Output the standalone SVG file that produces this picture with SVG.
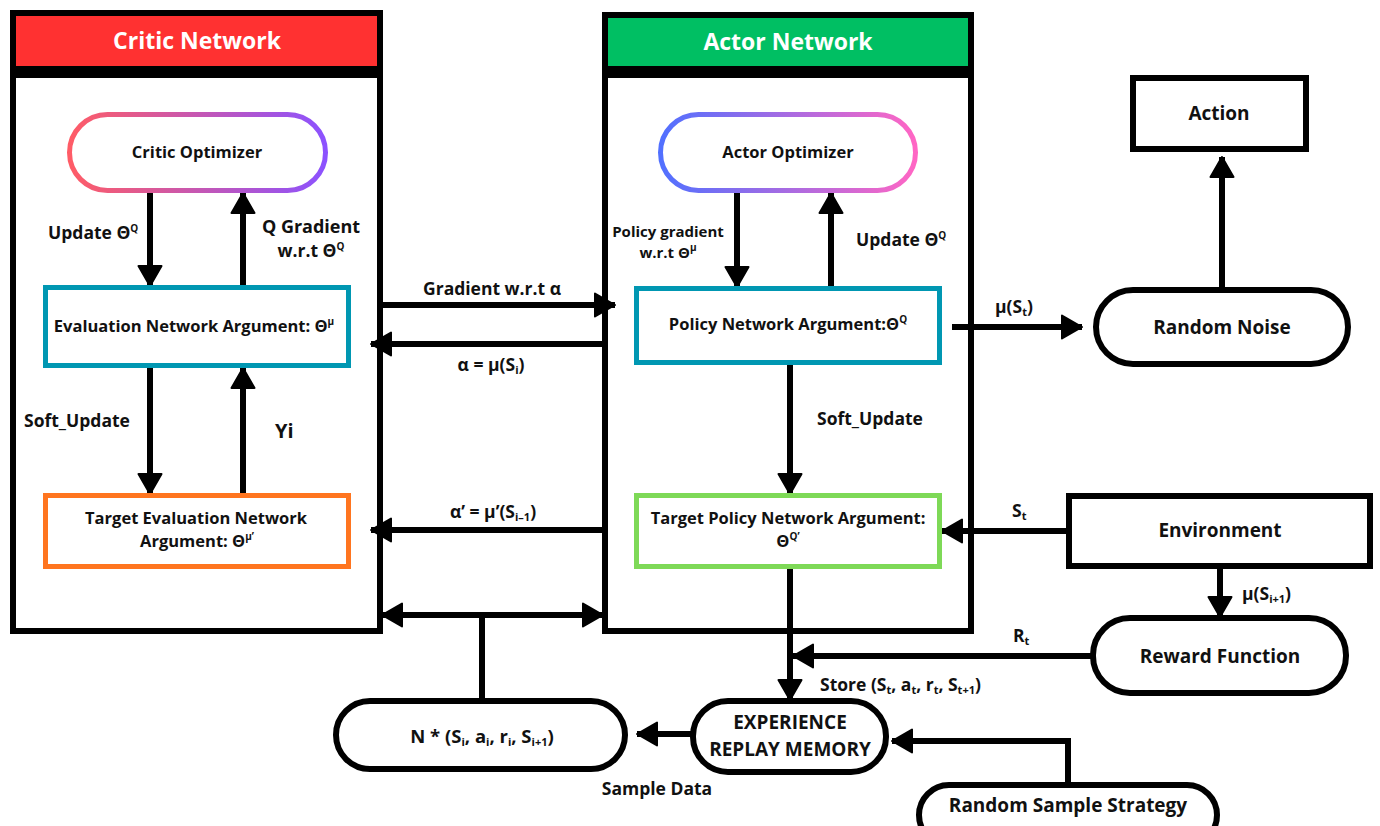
<svg xmlns="http://www.w3.org/2000/svg" width="1380" height="826" viewBox="0 0 1380 826">
  <defs>
    <linearGradient id="gradCritic" x1="0" y1="0" x2="1" y2="0">
      <stop offset="0" stop-color="#ff5c66"/>
      <stop offset="1" stop-color="#8c52ff"/>
    </linearGradient>
    <linearGradient id="gradActor" x1="0" y1="0" x2="1" y2="0">
      <stop offset="0" stop-color="#5170ff"/>
      <stop offset="1" stop-color="#ff66c4"/>
    </linearGradient>
    <marker id="arrow" viewBox="0 0 22 26" refX="21" refY="13" markerWidth="22" markerHeight="26" markerUnits="userSpaceOnUse" orient="auto-start-reverse">
      <path d="M1,1.5 L21,13 L1,24.5 Z" fill="#000" stroke="#000" stroke-width="2" stroke-linejoin="round"/>
    </marker>
    <style>
      text { font-family: "Open Sans", Lato, "Liberation Sans", sans-serif; font-weight: 700; fill: #111; }
      .hdr { font-size: 23px; fill: #fff; text-anchor: middle; }
      .n16 { font-size: 16.5px; text-anchor: middle; }
      .n19 { font-size: 19px; text-anchor: middle; }
      .lbl { font-size: 17.5px; }
      .lblc { font-size: 17.5px; text-anchor: middle; }
      .smc { font-size: 15px; text-anchor: middle; }
      .sup { font-size: 10px; }
      .sub { font-size: 11px; }
      .frame { fill: #fff; stroke: #000; stroke-width: 6; }
      .box { fill: #fff; stroke-width: 5; }
      .blk { fill: #fff; stroke: #000; stroke-width: 6; }
      .wire { fill: none; stroke: #000; stroke-width: 6; }
      .arr { fill: none; stroke: #000; stroke-width: 6; marker-end: url(#arrow); }
    </style>
  </defs>

  <!-- Critic panel -->
  <g id="critic-panel">
    <rect class="frame" x="13" y="13" width="367" height="618"/>
    <rect x="16" y="16" width="361" height="51" fill="#ff3131"/>
    <rect x="13" y="66" width="367" height="12" fill="#000"/>
    <text class="hdr" x="197" y="49">Critic Network</text>
  </g>

  <!-- Actor panel -->
  <g id="actor-panel">
    <rect class="frame" x="605" y="15" width="366" height="616"/>
    <rect x="608" y="18" width="360" height="49" fill="#00bf63"/>
    <rect x="605" y="66" width="366" height="12" fill="#000"/>
    <text class="hdr" x="788" y="50">Actor Network</text>
  </g>

  <!-- Connectors -->
  <g id="connectors">
    <!-- critic internal -->
    <line class="arr" x1="150" y1="193" x2="150" y2="286"/>
    <line class="arr" x1="243" y1="286" x2="243" y2="193"/>
    <line class="arr" x1="150" y1="368" x2="150" y2="494"/>
    <line class="arr" x1="243" y1="494" x2="243" y2="368"/>
    <!-- actor internal -->
    <line class="arr" x1="737" y1="193" x2="737" y2="287"/>
    <line class="arr" x1="831" y1="287" x2="831" y2="193"/>
    <line class="arr" x1="790" y1="365" x2="790" y2="494"/>
    <!-- between panels -->
    <line class="arr" x1="380" y1="305" x2="615" y2="305"/>
    <line class="arr" x1="603" y1="344" x2="371" y2="344"/>
    <line class="arr" x1="603" y1="530" x2="371" y2="530"/>
    <line class="arr" x1="482" y1="615" x2="382" y2="615"/>
    <line class="arr" x1="482" y1="615" x2="603" y2="615"/>
    <line class="wire" x1="482" y1="612" x2="482" y2="700"/>
    <!-- environment side -->
    <line class="arr" x1="952" y1="327" x2="1082" y2="327"/>
    <line class="arr" x1="1222" y1="289" x2="1222" y2="157"/>
    <line class="arr" x1="1068" y1="531" x2="942" y2="531"/>
    <line class="arr" x1="1220" y1="568" x2="1220" y2="617"/>
    <!-- replay memory -->
    <line class="arr" x1="790" y1="567" x2="790" y2="700"/>
    <line class="arr" x1="1092" y1="656" x2="793" y2="656"/>
    <line class="arr" x1="692" y1="734" x2="637" y2="734"/>
    <polyline class="arr" points="1068,785 1068,741 892,741"/>
  </g>

  <!-- Connector labels -->
  <g id="connector-labels">
    <text class="lbl" x="48" y="239">Update Θ<tspan class="sup" baseline-shift="super">Q</tspan></text>
    <text class="lblc" x="311" y="233" style="font-size:18px">Q Gradient</text>
    <text class="lblc" x="311" y="257">w.r.t Θ<tspan class="sup" baseline-shift="super">Q</tspan></text>
    <text class="lbl" x="24" y="427">Soft_Update</text>
    <text x="275" y="438" style="font-size:20px">Yi</text>

    <text class="smc" x="668" y="237">Policy gradient</text>
    <text class="smc" x="668" y="258">w.r.t Θ<tspan class="sup" baseline-shift="super">μ</tspan></text>
    <text class="lbl" x="856" y="246">Update Θ<tspan class="sup" baseline-shift="super">Q</tspan></text>
    <text class="lbl" x="817" y="425">Soft_Update</text>

    <text class="lblc" x="492" y="295">Gradient w.r.t α</text>
    <text class="lblc" x="491" y="371">α = μ(S<tspan class="sub" baseline-shift="-3">i</tspan>)</text>
    <text class="lblc" x="493" y="518">α’ = μ’(S<tspan class="sub" baseline-shift="-3">i–1</tspan>)</text>

    <text class="lbl" x="995" y="313">μ(S<tspan class="sub" baseline-shift="-3">t</tspan>)</text>
    <text class="lbl" x="1012" y="517">S<tspan class="sub" baseline-shift="-3">t</tspan></text>
    <text class="lbl" x="1242" y="600">μ(S<tspan class="sub" baseline-shift="-3">i+1</tspan>)</text>
    <text class="lbl" x="1013" y="642">R<tspan class="sub" baseline-shift="-3">t</tspan></text>
    <text class="lbl" x="820" y="691">Store (S<tspan class="sub" baseline-shift="-3">t</tspan>, a<tspan class="sub" baseline-shift="-3">t</tspan>, r<tspan class="sub" baseline-shift="-3">t</tspan>, S<tspan class="sub" baseline-shift="-3">t+1</tspan>)</text>
    <text class="lblc" x="657" y="795">Sample Data</text>
  </g>

  <!-- Nodes -->
  <g id="critic-optimizer">
    <rect class="box" x="69.5" y="114.5" width="256" height="76" rx="38" stroke="url(#gradCritic)"/>
    <text class="n16" x="197" y="158">Critic Optimizer</text>
  </g>

  <g id="evaluation-network">
    <rect class="box" x="45.5" y="287.5" width="303" height="78" stroke="#0097b2"/>
    <text class="n16" x="194" y="332">Evaluation Network Argument: Θ<tspan class="sup" baseline-shift="super">μ</tspan></text>
  </g>

  <g id="target-evaluation-network">
    <rect class="box" x="45.5" y="495.5" width="303" height="71" stroke="#ff751f"/>
    <text class="n16" x="196" y="524">Target Evaluation Network</text>
    <text class="n16" x="197" y="547">Argument: Θ<tspan class="sup" baseline-shift="super">μ’</tspan></text>
  </g>

  <g id="actor-optimizer">
    <rect class="box" x="660.5" y="114.5" width="255" height="76" rx="38" stroke="url(#gradActor)"/>
    <text class="n16" x="788" y="158">Actor Optimizer</text>
  </g>

  <g id="policy-network">
    <rect class="box" x="636.5" y="288.5" width="303" height="74" stroke="#0097b2"/>
    <text class="n16" x="788" y="330">Policy Network Argument:Θ<tspan class="sup" baseline-shift="super">Q</tspan></text>
  </g>

  <g id="target-policy-network">
    <rect class="box" x="636.5" y="495.5" width="303" height="71" stroke="#7ed957"/>
    <text class="n16" x="788" y="524">Target Policy Network Argument:</text>
    <text class="n16" x="788" y="547">Θ<tspan class="sup" baseline-shift="super">Q’</tspan></text>
  </g>

  <g id="action">
    <rect class="blk" x="1133" y="78" width="173" height="71"/>
    <text class="n19" x="1219" y="120">Action</text>
  </g>

  <g id="random-noise">
    <rect class="blk" x="1096" y="290" width="252" height="74" rx="37"/>
    <text class="n19" x="1222" y="334">Random Noise</text>
  </g>

  <g id="environment">
    <rect class="blk" x="1069" y="496" width="301" height="70"/>
    <text class="n19" x="1220" y="537">Environment</text>
  </g>

  <g id="reward-function">
    <rect class="blk" x="1093" y="618" width="253" height="75" rx="37"/>
    <text class="n19" x="1220" y="663">Reward Function</text>
  </g>

  <g id="experience-replay-memory">
    <rect class="blk" x="693" y="701" width="193" height="71" rx="35"/>
    <text class="n19" x="790" y="729">EXPERIENCE</text>
    <text class="n19" x="790" y="756">REPLAY MEMORY</text>
  </g>

  <g id="minibatch">
    <rect class="blk" x="336" y="701" width="289" height="68" rx="34"/>
    <text class="n19" x="482" y="743" style="font-size:18.5px">N * (S<tspan class="sub" baseline-shift="-3">i</tspan>, a<tspan class="sub" baseline-shift="-3">i</tspan>, r<tspan class="sub" baseline-shift="-3">i</tspan>, S<tspan class="sub" baseline-shift="-3">i+1</tspan>)</text>
  </g>

  <g id="random-sample-strategy">
    <rect class="blk" x="919" y="785" width="298" height="60" rx="30"/>
    <text class="n19" x="1068" y="812">Random Sample Strategy</text>
  </g>
</svg>
